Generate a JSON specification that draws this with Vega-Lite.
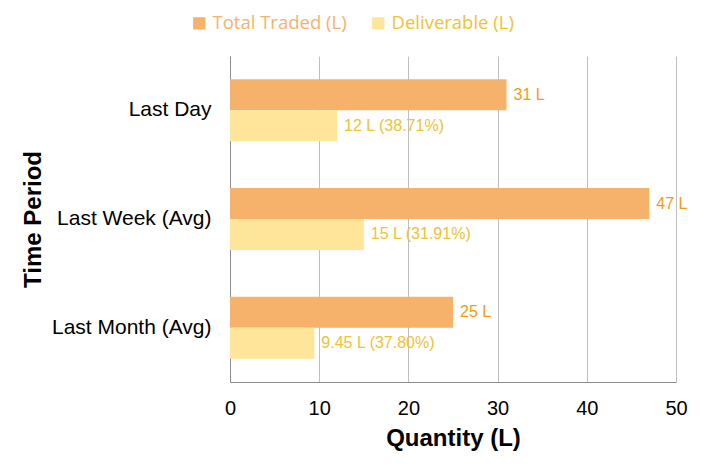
{
  "$schema": "https://vega.github.io/schema/vega-lite/v6.json",
  "width": 446,
  "height": 326,
  "autosize": {"type": "none"},
  "padding": {"left": 230, "top": 56, "right": 26, "bottom": 86},
  "background": "white",
  "config": {
    "font": "Liberation Sans",
    "view": {"stroke": null}
  },
  "data": {
    "values": [
      {"period": "Last Day", "series": "Total Traded (L)", "value": 31, "label": "31 L"},
      {"period": "Last Day", "series": "Deliverable (L)", "value": 12, "label": "12 L (38.71%)"},
      {"period": "Last Week (Avg)", "series": "Total Traded (L)", "value": 47, "label": "47 L"},
      {"period": "Last Week (Avg)", "series": "Deliverable (L)", "value": 15, "label": "15 L (31.91%)"},
      {"period": "Last Month (Avg)", "series": "Total Traded (L)", "value": 25, "label": "25 L"},
      {"period": "Last Month (Avg)", "series": "Deliverable (L)", "value": 9.45, "label": "9.45 L (37.80%)"}
    ]
  },
  "encoding": {
    "y": {
      "field": "period",
      "type": "nominal",
      "sort": ["Last Day", "Last Week (Avg)", "Last Month (Avg)"],
      "scale": {"paddingInner": 0.43, "paddingOuter": 0.215},
      "axis": {
        "title": "Time Period",
        "titleFont": "Liberation Sans",
        "titleFontSize": 24,
        "titleFontWeight": "bold",
        "titleColor": "#000000",
        "titleX": -197,
        "titleBaseline": "middle",
        "labelFont": "Liberation Sans",
        "labelFontSize": 21,
        "labelColor": "#000000",
        "labelPadding": 19,
        "ticks": false,
        "grid": false,
        "domainColor": "#8c8c8c",
        "labelLimit": 300
      }
    },
    "yOffset": {"field": "series", "sort": ["Total Traded (L)", "Deliverable (L)"]},
    "x": {
      "field": "value",
      "type": "quantitative",
      "scale": {"domain": [0, 50]},
      "axis": {
        "title": "Quantity (L)",
        "titleFont": "Liberation Sans",
        "titleFontSize": 24,
        "titleFontWeight": "bold",
        "titleColor": "#000000",
        "titlePadding": 8,
        "labelFont": "Liberation Sans",
        "labelFontSize": 20,
        "labelColor": "#000000",
        "labelPadding": 16,
        "labelFlush": false,
        "ticks": false,
        "tickCount": 5,
        "grid": true,
        "gridColor": "#bfbfbf",
        "domainColor": "#8c8c8c"
      }
    }
  },
  "layer": [
    {
      "mark": {"type": "bar"},
      "encoding": {
        "color": {
          "field": "series",
          "type": "nominal",
          "scale": {"domain": ["Total Traded (L)", "Deliverable (L)"], "range": ["#f6b26b", "#ffe599"]},
          "legend": {
            "title": null,
            "orient": "none",
            "legendX": -40,
            "legendY": -42,
            "direction": "horizontal",
            "symbolType": "square",
            "symbolSize": 150,
            "symbolStrokeWidth": 0,
            "labelFont": "Open Sans",
            "labelFontSize": 18.5,
            "labelColor": {"expr": "datum.value == 'Total Traded (L)' ? '#f6b26b' : '#f1c232'"},
            "columnPadding": 22,
            "labelOffset": 4
          }
        }
      }
    },
    {
      "mark": {"type": "text", "align": "left", "baseline": "middle", "dx": 7, "fontSize": 16, "font": "Liberation Sans"},
      "encoding": {
        "text": {"field": "label"},
        "color": {
          "field": "series",
          "type": "nominal",
          "scale": {"domain": ["Total Traded (L)", "Deliverable (L)"], "range": ["#f39c12", "#f1c232"]},
          "legend": null
        }
      }
    }
  ],
  "resolve": {"scale": {"color": "independent"}}
}
